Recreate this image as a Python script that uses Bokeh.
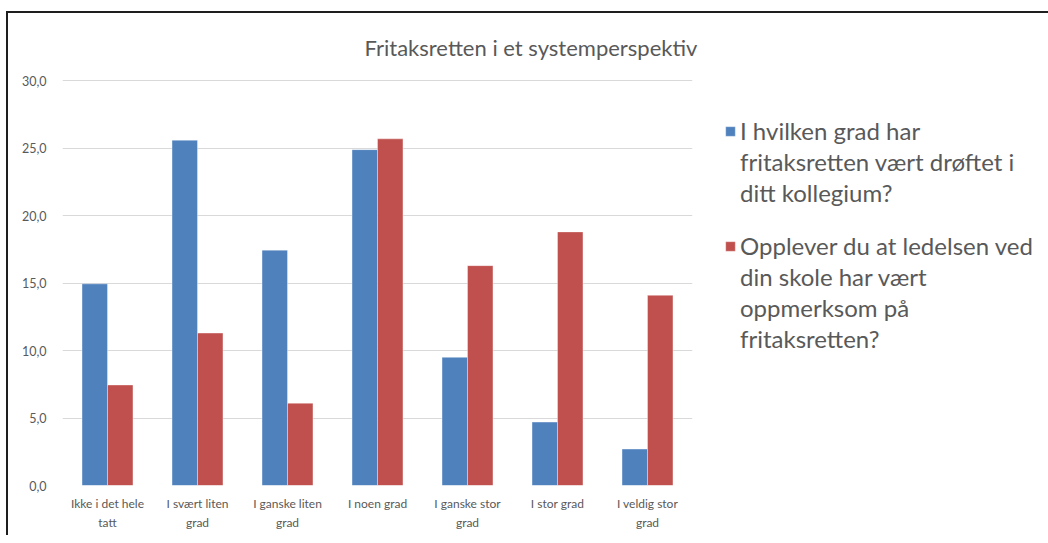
from bokeh.plotting import figure
from bokeh.models import (ColumnDataSource, Legend, LegendItem, Title, CustomJSTickFormatter,
                          FactorRange, Range1d, FixedTicker, CategoricalAxis)
from bokeh.transform import dodge
from bokeh.embed import file_html
from bokeh.resources import INLINE

# ---------------- data ----------------
categories = ["Ikke i det hele tatt", "I svært liten grad", "I ganske liten grad", "I noen grad",
              "I ganske stor grad", "I stor grad", "I veldig stor grad"]
tick_line1 = ["Ikke i det hele", "I svært liten", "I ganske liten", "I noen grad",
              "I ganske stor", "I stor grad", "I veldig stor"]
tick_line2 = ["tatt", "grad", "grad", "", "grad", "", "grad"]
drøftet = [14.95, 25.6, 17.45, 24.9, 9.5, 4.7, 2.7]
ledelsen = [7.45, 11.3, 6.1, 25.7, 16.3, 18.8, 14.1]
legend_lines_1 = ["I hvilken grad har", "fritaksretten vært drøftet i", "ditt kollegium?"]
legend_lines_2 = ["Opplever du at ledelsen ved", "din skole har vært", "oppmerksom på", "fritaksretten?"]
y_ticks = [0, 5, 10, 15, 20, 25, 30]
title_text = "Fritaksretten i et systemperspektiv"

FONT = "Lato"
TXT = "#595959"
BLUE = "#4f81bd"
RED = "#c0504d"

src = ColumnDataSource(dict(cat=categories, a=drøftet, b=ledelsen))

title = Title(text=title_text, align="left", offset=302, standoff=34, vertical_align="top",
              text_font=FONT, text_font_size="22px", text_font_style="normal", text_color=TXT)

p = figure(frame_width=630, frame_height=406, x_range=FactorRange(*categories), y_range=Range1d(0, 30.1),
           output_backend="svg", toolbar_location=None, title=title,
           min_border_left=54, min_border_right=0, min_border_top=66, min_border_bottom=50,
           styles={"border-top": "2px solid #1e1e1e", "border-left": "2px solid #1e1e1e",
                   "margin-left": "6px", "margin-top": "11px"})
p.outline_line_color = None
p.background_fill_color = "white"
p.border_fill_color = "white"

bw = 0.283
r1 = p.vbar(x=dodge("cat", -bw / 2, range=p.x_range), top="a", width=bw, source=src,
            fill_color=BLUE, line_color="white", line_width=0.6, line_alpha=0.6)
r2 = p.vbar(x=dodge("cat", bw / 2, range=p.x_range), top="b", width=bw, source=src,
            fill_color=RED, line_color="white", line_width=0.6, line_alpha=0.6)

# axes
p.xgrid.grid_line_color = None
p.ygrid.grid_line_color = "#d9d9d9"
p.ygrid.grid_line_width = 1
p.yaxis.ticker = FixedTicker(ticks=y_ticks)
p.yaxis.formatter = CustomJSTickFormatter(code="return tick.toFixed(1).replace('.', ',');")
lookup = "const i = cats.indexOf(tick); return i >= 0 ? labs[i] : tick;"
p.xaxis[0].formatter = CustomJSTickFormatter(args=dict(cats=categories, labs=tick_line1), code=lookup)
x2 = CategoricalAxis(formatter=CustomJSTickFormatter(args=dict(cats=categories, labs=tick_line2), code=lookup))
p.add_layout(x2, "below")
for ax in (p.xaxis[0], x2, p.yaxis[0]):
    ax.axis_line_color = None
    ax.major_tick_line_color = None
    ax.minor_tick_line_color = None
    ax.major_label_text_font = FONT
    ax.major_label_text_font_size = "12px"
    ax.major_label_text_color = TXT
p.yaxis.major_label_text_font_size = "12.5px"
p.yaxis.major_label_standoff = 10
p.xaxis[0].major_label_standoff = 10
x2.major_label_standoff = 1
x2.major_tick_out = 0
p.xaxis[0].major_tick_out = 0

items = [LegendItem(label=legend_lines_1[0], renderers=[r1])]
items += [LegendItem(label=t, renderers=[]) for t in legend_lines_1[1:]]
items += [LegendItem(label=" ", renderers=[])]
items += [LegendItem(label=legend_lines_2[0], renderers=[r2])]
items += [LegendItem(label=t, renderers=[]) for t in legend_lines_2[1:]]

legend = Legend(items=items, location=(32, 132), orientation="vertical",
                glyph_width=12, glyph_height=12, label_height=20, label_standoff=4, spacing=2,
                padding=0, margin=0, border_line_color=None, background_fill_alpha=0,
                label_text_font=FONT, label_text_font_size="24px", label_text_color=TXT)
p.add_layout(legend, "right")

open("out.html", "w").write(file_html(p, INLINE))
